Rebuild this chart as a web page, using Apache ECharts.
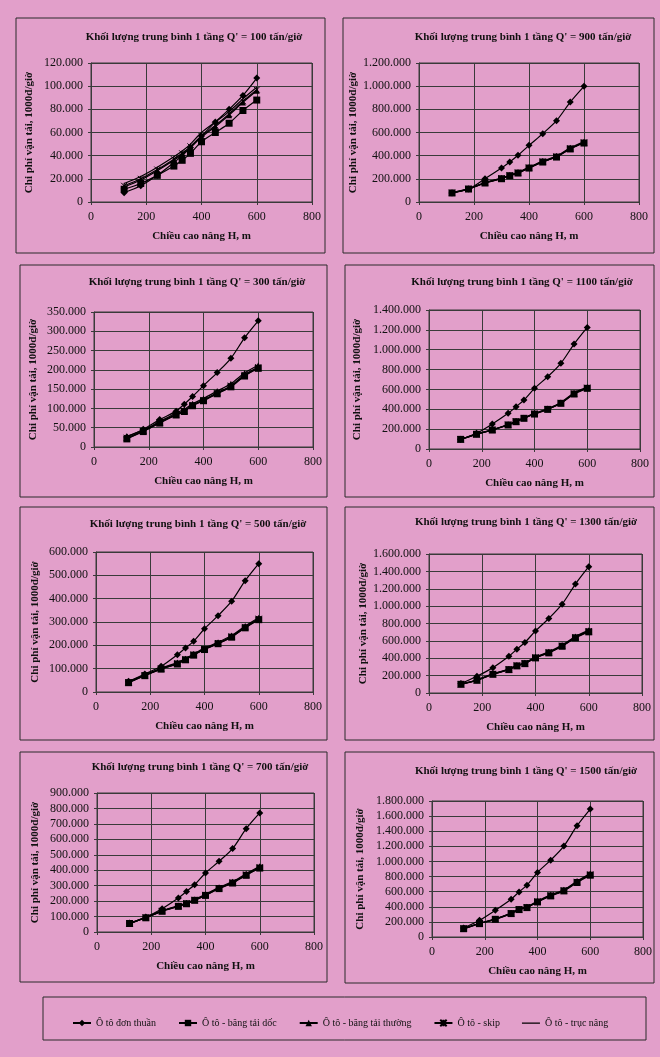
<!DOCTYPE html>
<html><head><meta charset="utf-8">
<script src="https://cdn.jsdelivr.net/npm/echarts@6/dist/echarts.min.js"></script>
<style>html,body{margin:0;padding:0;background:#e29fca}#c{width:660px;height:1057px}</style>
</head><body><div id="c"></div>
<script>
// ---------- DATA ----------
const H = [120, 180, 240, 300, 330, 360, 400, 450, 500, 550, 600];
const seriesNames = ['Ô tô đơn thuần', 'Ô tô - băng tải dốc', 'Ô tô - băng tải thường', 'Ô tô - skip', 'Ô tô - trục nâng'];
const panelQ = [100, 900, 300, 1100, 500, 1300, 700, 1500];
const yMaxes = [120000, 1200000, 350000, 1400000, 600000, 1600000, 900000, 1800000];
const yIntervals = [20000, 200000, 50000, 200000, 100000, 200000, 100000, 200000];
const xTickValues = [0, 200, 400, 600, 800];

// Q' = 100
const don_100    = [8000, 14000, 23000, 34000, 40000, 47000, 57000, 69000, 80000, 92000, 107000];
const doc_100    = [11000, 16000, 23000, 31000, 36000, 42000, 52000, 60000, 68000, 79000, 88000];
const thuong_100 = [13000, 19000, 27000, 36000, 41000, 47000, 56000, 65000, 75000, 86000, 96000];
const skip_100   = [14000, 20000, 28000, 37000, 42000, 48000, 57000, 66000, 76000, 87000, 97000];
const truc_100   = [16000, 22000, 30000, 39000, 44000, 50000, 60000, 69000, 78000, 89000, 99000];
// Q' = 900
const don_900    = [78000, 112000, 201000, 293000, 345000, 403000, 489000, 590000, 702000, 863000, 999000];
const doc_900    = [78000, 112000, 164000, 201000, 227000, 250000, 293000, 345000, 388000, 458000, 509000];
const thuong_900 = [80000, 115000, 168000, 206000, 232000, 256000, 300000, 353000, 397000, 468000, 520000];
const skip_900   = [79000, 113000, 166000, 203000, 229000, 253000, 296000, 349000, 392000, 463000, 514000];
const truc_900   = [78000, 112000, 165000, 202000, 228000, 251000, 294000, 347000, 390000, 460000, 511000];
// Q' = 300
const don_300    = [26000, 46000, 71000, 93000, 111000, 131000, 159000, 193000, 230000, 283000, 327000];
const doc_300    = [21000, 40000, 62000, 83000, 92000, 107000, 120000, 138000, 156000, 184000, 204000];
const thuong_300 = [28000, 44000, 66000, 88000, 98000, 112000, 126000, 145000, 164000, 192000, 212000];
const skip_300   = [24000, 42000, 64000, 85000, 94000, 109000, 122000, 141000, 159000, 187000, 207000];
const truc_300   = [22000, 41000, 63000, 84000, 93000, 108000, 121000, 139000, 157000, 185000, 205000];
// Q' = 1100
const don_1100    = [97000, 158000, 252000, 359000, 426000, 493000, 611000, 728000, 863000, 1057000, 1225000];
const doc_1100    = [97000, 148000, 191000, 242000, 275000, 309000, 352000, 399000, 460000, 554000, 611000];
const thuong_1100 = [99000, 151000, 195000, 247000, 281000, 315000, 359000, 407000, 469000, 565000, 623000];
const skip_1100   = [98000, 149000, 193000, 244000, 278000, 312000, 355000, 403000, 464000, 559000, 617000];
const truc_1100   = [97000, 148000, 192000, 243000, 276000, 310000, 353000, 401000, 462000, 556000, 614000];
// Q' = 500
const don_500    = [46000, 77000, 110000, 160000, 189000, 217000, 271000, 327000, 389000, 477000, 550000];
const doc_500    = [40000, 70000, 98000, 120000, 138000, 158000, 182000, 207000, 235000, 275000, 310000];
const thuong_500 = [44000, 74000, 102000, 126000, 143000, 163000, 188000, 213000, 242000, 283000, 318000];
const skip_500   = [42000, 72000, 100000, 123000, 140000, 160000, 185000, 210000, 238000, 279000, 314000];
const truc_500   = [41000, 71000, 99000, 121000, 139000, 159000, 183000, 208000, 236000, 277000, 312000];
// Q' = 1300
const don_1300    = [108000, 192000, 292000, 423000, 504000, 581000, 715000, 858000, 1023000, 1254000, 1454000];
const doc_1300    = [100000, 146000, 215000, 269000, 312000, 338000, 404000, 462000, 538000, 635000, 704000];
const thuong_1300 = [103000, 150000, 221000, 276000, 320000, 347000, 414000, 474000, 551000, 651000, 721000];
const skip_1300   = [101000, 148000, 218000, 272000, 316000, 342000, 409000, 468000, 544000, 643000, 712000];
const truc_1300   = [100000, 147000, 216000, 270000, 314000, 340000, 406000, 465000, 541000, 639000, 708000];
// Q' = 700
const don_700    = [58000, 97000, 151000, 220000, 263000, 306000, 382000, 458000, 540000, 669000, 771000];
const doc_700    = [55000, 92000, 134000, 166000, 183000, 205000, 237000, 281000, 317000, 367000, 414000];
const thuong_700 = [57000, 95000, 138000, 171000, 188000, 211000, 244000, 289000, 326000, 377000, 425000];
const skip_700   = [56000, 93000, 136000, 168000, 185000, 208000, 240000, 285000, 321000, 372000, 419000];
const truc_700   = [55000, 92000, 135000, 167000, 184000, 206000, 238000, 283000, 319000, 369000, 416000];
// Q' = 1500
const don_1500    = [119000, 221000, 354000, 500000, 597000, 686000, 854000, 1017000, 1203000, 1473000, 1694000];
const doc_1500    = [110000, 177000, 234000, 310000, 363000, 389000, 464000, 544000, 610000, 721000, 818000];
const thuong_1500 = [113000, 182000, 241000, 318000, 372000, 399000, 476000, 558000, 626000, 740000, 839000];
const skip_1500   = [111000, 179000, 237000, 314000, 367000, 394000, 470000, 551000, 618000, 730000, 828000];
const truc_1500   = [110000, 178000, 235000, 312000, 365000, 391000, 467000, 547000, 614000, 725000, 823000];

const panelData = [
  [don_100, doc_100, thuong_100, skip_100, truc_100],
  [don_900, doc_900, thuong_900, skip_900, truc_900],
  [don_300, doc_300, thuong_300, skip_300, truc_300],
  [don_1100, doc_1100, thuong_1100, skip_1100, truc_1100],
  [don_500, doc_500, thuong_500, skip_500, truc_500],
  [don_1300, doc_1300, thuong_1300, skip_1300, truc_1300],
  [don_700, doc_700, thuong_700, skip_700, truc_700],
  [don_1500, doc_1500, thuong_1500, skip_1500, truc_1500]
];

// ---------- LAYOUT ----------
const grids = [
  {left: 91, top: 63, width: 221, height: 139},
  {left: 419, top: 63, width: 220, height: 139},
  {left: 94, top: 312, width: 219, height: 135},
  {left: 429, top: 310, width: 211, height: 139},
  {left: 96, top: 552, width: 217, height: 140},
  {left: 429, top: 554, width: 213, height: 139},
  {left: 97, top: 793, width: 217, height: 139},
  {left: 432, top: 801, width: 211, height: 136}
];
const panelBoxes = [
  [16, 18, 309, 235], [343, 18, 311, 235],
  [20, 265, 307, 232], [345, 265, 309, 232],
  [20, 507, 307, 233], [345, 507, 309, 233],
  [20, 752, 307, 230], [345, 752, 309, 231]
];
const titlePos = [[194, 39], [523, 39], [197, 284], [522, 284], [198, 526], [526, 524], [200, 769], [526, 773]];
const yNameGaps = [56, 55, 55, 66, 55, 58, 56, 66];

const FONT = "'Liberation Serif', 'DejaVu Serif', serif";
const INK = '#111';
const GRIDC = '#3a3a3a';
const BG = '#e29fca';

function fmt(v) { return String(v).replace(/\B(?=(\d{3})+(?!\d))/g, '.'); }

const starPath = 'path://M0,0L10,10M10,0L0,10M5,0L5,10';
const plainLineIcon = 'path://M0,0h0.01v0.01h-0.01z M0,3.4h18v1.3h-18z M17.99,7.99h0.01v0.01h-0.01z';
const symbols = ['diamond', 'rect', 'triangle', starPath, 'none'];
const symSizes = [7, 7, 6, 6, 0];
const zs = [4, 6, 3, 3, 2];

const option = {
  backgroundColor: BG,
  animation: false,
  title: panelQ.map((q, i) => ({
    text: "Khối lượng trung bình 1 tầng Q' = " + q + " tấn/giờ",
    left: titlePos[i][0], top: titlePos[i][1] - 7, textAlign: 'center', padding: 0,
    textStyle: {fontFamily: FONT, fontWeight: 'bold', fontSize: 11, color: INK}
  })),
  legend: {
    left: 67, top: 1013, itemWidth: 18, itemHeight: 8, itemGap: 22, selectedMode: false,
    data: seriesNames.map((n, s) => s === 4 ? {name: n, icon: plainLineIcon, itemStyle: {color: '#000'}} : n),
    textStyle: {fontFamily: FONT, fontSize: 10, color: INK}
  },
  graphic: panelBoxes.map(b => ({
    type: 'rect', shape: {x: b[0], y: b[1], width: b[2], height: b[3]},
    style: {fill: 'none', stroke: '#2a2a2a', lineWidth: 1}, silent: true
  })).concat([{
    type: 'rect', shape: {x: 43, y: 997, width: 603, height: 43},
    style: {fill: 'none', stroke: '#2a2a2a', lineWidth: 1}, silent: true
  }]),
  grid: grids.map(g => Object.assign({show: true, borderColor: GRIDC, borderWidth: 1, backgroundColor: 'transparent', containLabel: false}, g)),
  xAxis: grids.map((g, i) => ({
    type: 'value', gridIndex: i, min: xTickValues[0], max: xTickValues[xTickValues.length - 1], interval: 200,
    name: 'Chiều cao nâng H, m', nameLocation: 'middle', nameGap: 29,
    nameTextStyle: {fontFamily: FONT, fontWeight: 'bold', fontSize: 11, color: INK},
    axisLine: {show: true, onZero: false, lineStyle: {color: GRIDC, width: 1}},
    axisTick: {show: true, length: 3, inside: false, lineStyle: {color: GRIDC}},
    axisLabel: {fontFamily: FONT, fontSize: 12, color: INK, margin: 9},
    splitLine: {show: true, lineStyle: {color: GRIDC, width: 1}}
  })),
  yAxis: grids.map((g, i) => ({
    type: 'value', gridIndex: i, min: 0, max: yMaxes[i], interval: yIntervals[i],
    name: 'Chi phí vận tải, 1000đ/giờ', nameLocation: 'middle', nameGap: yNameGaps[i],
    nameTextStyle: {fontFamily: FONT, fontWeight: 'bold', fontSize: 11, color: INK},
    axisLine: {show: true, lineStyle: {color: GRIDC, width: 1}},
    axisTick: {show: true, length: 3, inside: false, lineStyle: {color: GRIDC}},
    axisLabel: {fontFamily: FONT, fontSize: 12, color: INK, margin: 8, formatter: fmt},
    splitLine: {show: true, lineStyle: {color: GRIDC, width: 1}}
  })),
  series: []
};

panelData.forEach((sets, i) => {
  sets.forEach((vals, s) => {
    option.series.push({
      type: 'line', name: seriesNames[s], xAxisIndex: i, yAxisIndex: i,
      data: H.map((h, k) => [h, vals[k]]),
      smooth: 0.3,
      symbol: symbols[s], symbolSize: symSizes[s], showSymbol: s !== 4,
      z: zs[s],
      lineStyle: {color: '#000', width: 1.2},
      itemStyle: {color: '#000', borderColor: '#000', borderWidth: s === 3 ? 1 : 0}
    });
  });
});

const chart = echarts.init(document.getElementById('c'), null, {renderer: 'canvas'});
chart.setOption(option);
</script>
</body></html>
